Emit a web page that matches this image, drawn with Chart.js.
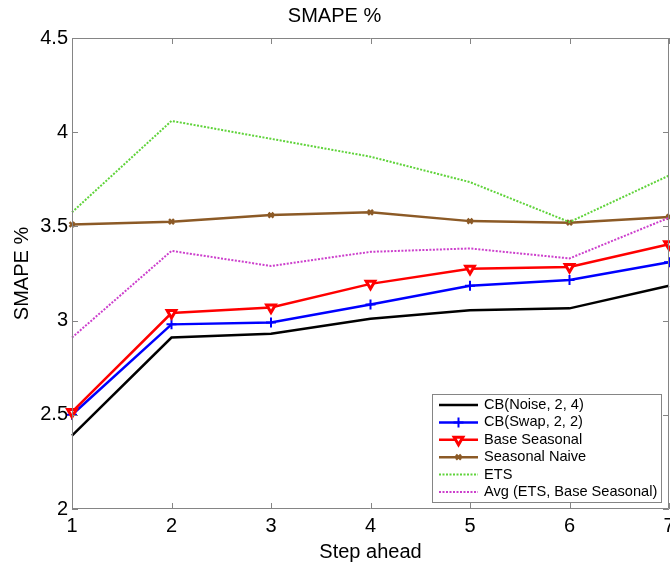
<!DOCTYPE html>
<html>
<head>
<meta charset="utf-8">
<script src="https://cdn.jsdelivr.net/npm/chart.js@4.4.1/dist/chart.umd.min.js"></script>
<style>
    html, body { margin: 0; padding: 0; background: #fff; overflow: hidden; }
    #wrap { position: relative; width: 690px; height: 564px; }
</style>
</head>
<body>
<div id="wrap"><canvas id="smapeChart" width="690" height="564"></canvas></div>
<script>
// data
const steps = ['1', '2', '3', '4', '5', '6', '7'];
const cbNoise = [2.39, 2.91, 2.93, 3.01, 3.055, 3.065, 3.185];
const cbSwap = [2.50, 2.98, 2.99, 3.085, 3.185, 3.215, 3.31];
const baseSeasonal = [2.515, 3.04, 3.07, 3.195, 3.275, 3.285, 3.405];
const seasonalNaive = [3.51, 3.525, 3.56, 3.575, 3.528, 3.52, 3.55];
const ets = [3.575, 4.06, 3.965, 3.87, 3.735, 3.523, 3.77];
const avgEtsBase = [2.91, 3.37, 3.29, 3.365, 3.383, 3.33, 3.546];
const yTicks = [2, 2.5, 3, 3.5, 4, 4.5];

const FONT = 'Arial, "Liberation Sans", Helvetica, sans-serif';
const AXIS_GREY = '#858585';

// one series, matlab-ish look
function series(label, data, color, extra) {
    return Object.assign({
        label: label,
        data: data,
        borderColor: color,
        backgroundColor: color,
        borderWidth: 2.5,
        pointRadius: 0,
        pointHoverRadius: 0,
        tension: 0,
        clip: false
    }, extra || {});
}

const datasets = [
    series('CB(Noise, 2, 4)', cbNoise, '#000000', { order: 5 }),
    series('CB(Swap, 2, 2)', cbSwap, '#0000ff', {
        order: 4, pointStyle: 'cross', pointRadius: 5, pointBorderWidth: 2
    }),
    series('Base Seasonal', baseSeasonal, '#ff0000', {
        order: 3, pointStyle: 'triangle', pointRotation: 180, pointRadius: 5,
        pointBorderWidth: 3, pointBackgroundColor: '#ffffff'
    }),
    series('Seasonal Naive', seasonalNaive, '#8c5a26', {
        order: 2, pointStyle: 'crossRot', pointRadius: 3.5, pointBorderWidth: 2.5
    }),
    series('ETS', ets, '#5fd33a', { order: 1, borderWidth: 2, borderDash: [2, 1.5] }),
    series('Avg (ETS, Base Seasonal)', avgEtsBase, '#cc3fcc', { order: 0, borderWidth: 2, borderDash: [2, 1.5] })
];

// box + inward ticks on all four sides
const boxTicks = {
    id: 'boxTicks',
    afterDatasetsDraw(chart) {
        const { ctx, chartArea: a, scales } = chart;
        const len = 6;
        ctx.save();
        ctx.strokeStyle = AXIS_GREY;
        ctx.lineWidth = 1;
        ctx.beginPath();
        ctx.rect(a.left + 0.5, a.top + 0.5, a.right - a.left - 1, a.bottom - a.top - 1);
        steps.forEach((s, i) => {
            const x = Math.round(scales.x.getPixelForValue(i)) + 0.5;
            ctx.moveTo(x, a.bottom); ctx.lineTo(x, a.bottom - len);
            ctx.moveTo(x, a.top); ctx.lineTo(x, a.top + len);
        });
        yTicks.forEach(v => {
            const y = Math.round(scales.y.getPixelForValue(v)) + 0.5;
            ctx.moveTo(a.left, y); ctx.lineTo(a.left + len, y);
            ctx.moveTo(a.right, y); ctx.lineTo(a.right - len, y);
        });
        ctx.stroke();
        ctx.restore();
    }
};

// legend drawn inside the plot, bottom right
const insideLegend = {
    id: 'insideLegend',
    afterDraw(chart) {
        const ctx = chart.ctx;
        const box = { x: 432, y: 394, w: 229, h: 108 };
        const rowH = 17.4;
        ctx.save();
        ctx.fillStyle = '#ffffff';
        ctx.fillRect(box.x, box.y, box.w, box.h);
        ctx.strokeStyle = AXIS_GREY;
        ctx.lineWidth = 1;
        ctx.strokeRect(box.x + 0.5, box.y + 0.5, box.w, box.h);
        ctx.font = '14.6px ' + FONT;
        ctx.textBaseline = 'middle';
        ctx.textAlign = 'left';
        chart.data.datasets.forEach((ds, i) => {
            const y = box.y + 11 + i * rowH;
            const x0 = box.x + 7, x1 = box.x + 46;
            ctx.strokeStyle = ds.borderColor;
            ctx.lineWidth = ds.borderWidth;
            ctx.setLineDash(ds.borderDash || []);
            ctx.beginPath();
            ctx.moveTo(x0, y); ctx.lineTo(x1, y);
            ctx.stroke();
            ctx.setLineDash([]);
            if (ds.pointRadius) {
                ctx.fillStyle = ds.pointBackgroundColor || ds.borderColor;
                ctx.lineWidth = ds.pointBorderWidth;
                Chart.helpers.drawPoint(ctx, {
                    pointStyle: ds.pointStyle, rotation: ds.pointRotation || 0,
                    radius: ds.pointRadius, borderWidth: ds.pointBorderWidth
                }, (x0 + x1) / 2, y);
            }
            ctx.fillStyle = '#000';
            ctx.fillText(ds.label, x1 + 6, y);
        });
        ctx.restore();
    }
};

new Chart(document.getElementById('smapeChart'), {
    type: 'line',
    data: { labels: steps, datasets: datasets },
    options: {
        responsive: false,
        animation: false,
        events: [],
        layout: { padding: { left: 0, right: 21, top: 0, bottom: 0 } },
        plugins: {
            legend: { display: false },
            tooltip: { enabled: false },
            title: {
                display: true,
                text: 'SMAPE %',
                color: '#000',
                font: { family: FONT, size: 20, weight: 'normal' },
                padding: { top: 4, bottom: 10 }
            }
        },
        scales: {
            x: {
                type: 'category',
                offset: false,
                grid: { display: false, drawTicks: false },
                border: { display: false },
                ticks: { color: '#000', font: { family: FONT, size: 20 }, padding: 5, maxRotation: 0, autoSkip: false },
                title: {
                    display: true, text: 'Step ahead', color: '#000',
                    font: { family: FONT, size: 20 }, padding: { top: 6, bottom: 0 }
                },
                afterFit: s => { s.height = 55; }
            },
            y: {
                min: 2,
                max: 4.5,
                grid: { display: false, drawTicks: false },
                border: { display: false },
                afterBuildTicks: s => { s.ticks = yTicks.map(v => ({ value: v })); },
                ticks: { color: '#000', font: { family: FONT, size: 20 }, padding: 4, callback: v => String(v) },
                title: {
                    display: true, text: 'SMAPE %', color: '#000',
                    font: { family: FONT, size: 20 }, padding: { top: 10, bottom: 0 }
                },
                afterFit: s => { s.width = 72; }
            }
        }
    },
    plugins: [boxTicks, insideLegend]
});
</script>
</body>
</html>
